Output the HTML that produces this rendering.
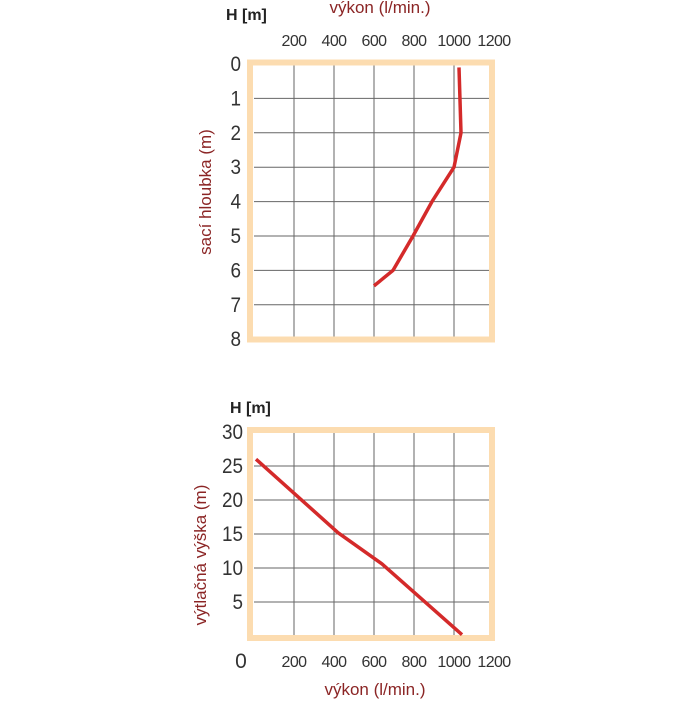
<!DOCTYPE html>
<html><head><meta charset="utf-8"><style>
body{margin:0;background:#fff;}
svg text{font-family:"Liberation Sans",sans-serif;}
</style></head><body>
<svg width="700" height="700" xmlns="http://www.w3.org/2000/svg">
<g id="top"></g>
<g id="bot"></g>
</svg>
<script>
const NS="http://www.w3.org/2000/svg";
// top chart data
const topFlow=[1025,1035,1000,890,795,695,600];
const topDepth=[0.1,2,3,4,5,6,6.45];
const topXTicks=[200,400,600,800,1000,1200];
const topYTicks=[0,1,2,3,4,5,6,7,8];
// bottom chart data
const botFlow=[10,420,640,1040];
const botHead=[26,15.2,10.6,0.2];
const botXTicks=[200,400,600,800,1000,1200];
const botYTicks=[5,10,15,20,25,30];

function el(tag,attrs,parent,text){const e=document.createElementNS(NS,tag);for(const k in attrs)e.setAttribute(k,attrs[k]);if(text!==undefined)e.textContent=text;parent.appendChild(e);return e;}

// top
const T=document.getElementById('top');
const tx=v=>254+v*0.2, ty=v=>64+v*34.4;
for(const v of topXTicks.slice(0,5)){const l=el('line',{x1:tx(v),x2:tx(v),y1:ty(0),y2:ty(8),stroke:'#666','stroke-width':1},T);}
for(const v of topYTicks.slice(1,8)){const l=el('line',{x1:tx(0),x2:tx(1200),y1:ty(v),y2:ty(v),stroke:'#666','stroke-width':1},T);}
el('rect',{x:250,y:62.5,width:242,height:277,fill:'none',stroke:'#fcdcb0','stroke-width':6},T);
for(const v of topXTicks){const t=el('text',{x:tx(v),y:46,'text-anchor':'middle','font-size':16,'letter-spacing':-0.6,fill:'#333'},T,v);}
for(const v of topYTicks){const t=el('text',{x:241,y:ty(v)+7,'text-anchor':'end','font-size':21,fill:'#333',transform:`translate(${241*0.1},0) scale(0.9,1)`},T,v);}
let p=el('polyline',{points:topFlow.map((f,i)=>tx(f)+','+ty(topDepth[i])).join(' '),fill:'none',stroke:'#d42a2a','stroke-width':3.5,'stroke-linejoin':'round'},T);

let t1=el('text',{x:226,y:20,'font-size':16,'font-weight':'bold',fill:'#222'},T,'H [m]');
let t2=el('text',{x:380,y:13,'text-anchor':'middle','font-size':17,fill:'#8b2525'},T,'výkon (l/min.)');
let t3=el('text',{x:0,y:0,'text-anchor':'middle','font-size':17,fill:'#8b2525',transform:'translate(211,192) rotate(-90)'},T,'sací hloubka (m)');

// bottom
const B=document.getElementById('bot');
const bx=v=>254+v*0.2, by=v=>636-v*6.8;
for(const v of botXTicks.slice(0,5)){const l=el('line',{x1:bx(v),x2:bx(v),y1:by(30),y2:by(0),stroke:'#666','stroke-width':1},B);}
for(const v of botYTicks.slice(0,5)){const l=el('line',{x1:bx(0),x2:bx(1200),y1:by(v),y2:by(v),stroke:'#666','stroke-width':1},B);}
el('rect',{x:250,y:430,width:242,height:208,fill:'none',stroke:'#fcdcb0','stroke-width':6},B);
for(const v of botXTicks){const t=el('text',{x:bx(v),y:667,'text-anchor':'middle','font-size':16,'letter-spacing':-0.6,fill:'#333'},B,v);}
let z=el('text',{x:241,y:668,'text-anchor':'middle','font-size':21,fill:'#333'},B,'0');
for(const v of botYTicks){const t=el('text',{x:243,y:by(v)+7,'text-anchor':'end','font-size':21,fill:'#333',transform:`translate(${243*0.1},0) scale(0.9,1)`},B,v);}
p=el('polyline',{points:botFlow.map((f,i)=>bx(f)+','+by(botHead[i])).join(' '),fill:'none',stroke:'#d42a2a','stroke-width':3.5,'stroke-linejoin':'round'},B);

t1=el('text',{x:230,y:413,'font-size':16,'font-weight':'bold',fill:'#222'},B,'H [m]');
t2=el('text',{x:375,y:695,'text-anchor':'middle','font-size':17,fill:'#8b2525'},B,'výkon (l/min.)');
t3=el('text',{x:0,y:0,'text-anchor':'middle','font-size':17,fill:'#8b2525',transform:'translate(206,555) rotate(-90)'},B,'výtlačná výška (m)');
</script>
</body></html>
